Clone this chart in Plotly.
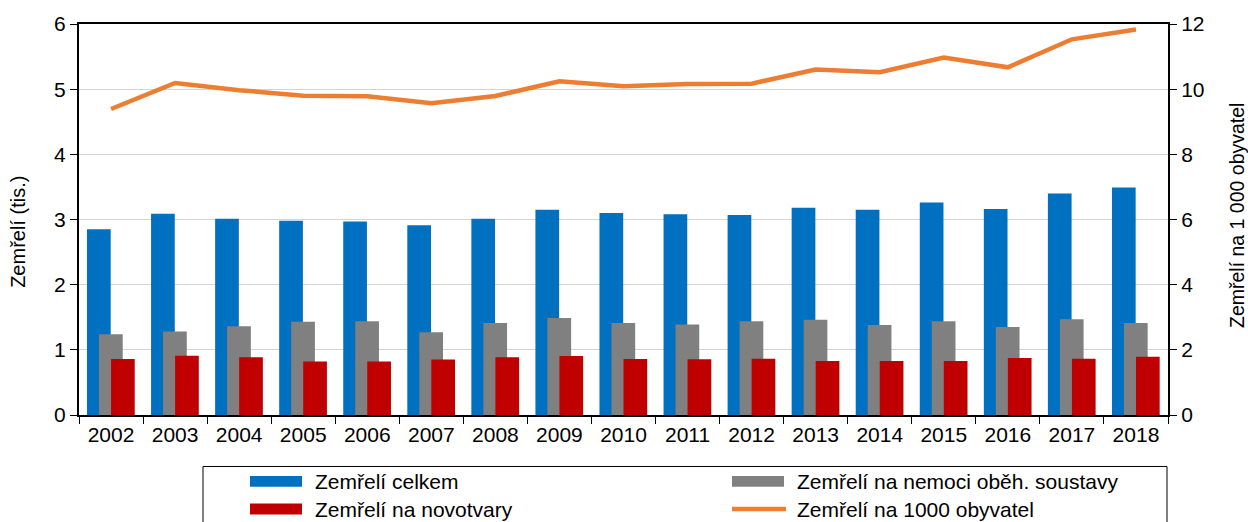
import plotly.graph_objects as go

years = [str(y) for y in range(2002, 2019)]

# thousands of deaths
zemreli_celkem = [2.85, 3.09, 3.01, 2.98, 2.97, 2.91, 3.01, 3.15, 3.10,
                  3.08, 3.07, 3.18, 3.15, 3.26, 3.16, 3.40, 3.49]
zemreli_obeh = [1.24, 1.28, 1.36, 1.43, 1.44, 1.27, 1.41, 1.49, 1.41,
                1.39, 1.44, 1.46, 1.38, 1.44, 1.35, 1.47, 1.41]
zemreli_novotvary = [0.86, 0.91, 0.885, 0.82, 0.82, 0.85, 0.885, 0.905, 0.86,
                     0.855, 0.865, 0.83, 0.83, 0.83, 0.875, 0.865, 0.895]
# per 1000 inhabitants (right axis)
zemreli_na_1000 = [9.39, 10.19, 9.97, 9.80, 9.78, 9.57, 9.79, 10.24, 10.09,
                   10.16, 10.17, 10.60, 10.52, 10.97, 10.67, 11.53, 11.83]

BLUE = "#0070C0"
GRAY = "#808080"
RED = "#C00000"
ORANGE = "#ED7D31"
FONT = "Liberation Sans, Arial, sans-serif"

W, H = 1248, 522
PLOT_L, PLOT_R, PLOT_T, PLOT_B = 79, 1168, 20, 415
PW, PH = PLOT_R - PLOT_L, PLOT_B - PLOT_T


def px(x):
    # pixel -> paper x
    return (x - PLOT_L) / PW


def py(y):
    # pixel -> paper y
    return (PLOT_B - y) / PH


fig = go.Figure()
fig.add_bar(x=years, y=zemreli_celkem, name="Zemřelí celkem", marker_color=BLUE,
            width=0.37, offset=-0.375, marker_line_width=0)
fig.add_bar(x=years, y=zemreli_obeh, name="Zemřelí na nemoci oběh. soustavy",
            marker_color=GRAY, width=0.37, offset=-0.1875, marker_line_width=0)
fig.add_bar(x=years, y=zemreli_novotvary, name="Zemřelí na novotvary",
            marker_color=RED, width=0.37, offset=0, marker_line_width=0)
fig.add_scatter(x=years, y=zemreli_na_1000, name="Zemřelí na 1000 obyvatel",
                mode="lines", line=dict(color=ORANGE, width=4.5), yaxis="y2")

# legend drawn by hand to get Excel-like wide swatches
shapes = [dict(type="rect", xref="paper", yref="paper",
               x0=px(203), x1=px(1167), y0=py(467), y1=py(535),
               line=dict(color="black", width=1), fillcolor="rgba(0,0,0,0)")]
annotations = []
items = [("Zemřelí celkem", BLUE, "bar", 250, 482),
         ("Zemřelí na nemoci oběh. soustavy", GRAY, "bar", 732, 482),
         ("Zemřelí na novotvary", RED, "bar", 250, 510),
         ("Zemřelí na 1000 obyvatel", ORANGE, "line", 732, 510)]
for label, color, kind, x, y in items:
    if kind == "bar":
        shapes.append(dict(type="rect", xref="paper", yref="paper",
                           x0=px(x), x1=px(x + 52), y0=py(y + 5.5), y1=py(y - 5.5),
                           fillcolor=color, line=dict(width=0)))
    else:
        shapes.append(dict(type="line", xref="paper", yref="paper",
                           x0=px(x), x1=px(x + 54), y0=py(y), y1=py(y),
                           line=dict(color=color, width=4.5)))
    annotations.append(dict(text=label, xref="paper", yref="paper",
                            x=px(x + 63), y=py(y), xanchor="left", yanchor="middle",
                            showarrow=False, font=dict(size=21, color="black")))

# axis titles as annotations so they sit where the reference has them
annotations.append(dict(text="Zemřelí (tis.)", xref="paper", yref="paper",
                        x=px(18), y=py(230), textangle=-90, showarrow=False,
                        xanchor="center", yanchor="middle", font=dict(size=20)))
annotations.append(dict(text="Zemřelí na 1 000 obyvatel", xref="paper", yref="paper",
                        x=px(1237), y=py(214), textangle=-90, showarrow=False,
                        xanchor="center", yanchor="middle", font=dict(size=19.5)))

fig.update_layout(
    width=W, height=H,
    margin=dict(l=PLOT_L, r=W - PLOT_R, t=PLOT_T, b=H - PLOT_B),
    barmode="overlay",
    showlegend=False,
    plot_bgcolor="white", paper_bgcolor="white",
    font=dict(family=FONT, size=21, color="black"),
    shapes=shapes, annotations=annotations,
    xaxis=dict(type="category", showline=True, linecolor="black", linewidth=2,
               mirror=True, ticks="outside", tickson="boundaries", ticklen=7,
               tickcolor="black", showgrid=False, range=[-0.5, 16.5]),
    yaxis=dict(range=[0, 6], dtick=1, showline=True, linecolor="black", linewidth=2,
               ticks="outside", ticklen=7, tickcolor="black",
               showgrid=True, gridcolor="#d4d4d4", gridwidth=1, zeroline=False),
    yaxis2=dict(range=[0, 12], dtick=2, overlaying="y", side="right",
                showline=True, linecolor="black", linewidth=2,
                ticks="outside", ticklen=7, tickcolor="black",
                showgrid=False, zeroline=False),
)

# drop the default page margin so the figure fills the window exactly
fig.write_html("out.html", config={"displayModeBar": False},
               post_script="document.body.style.margin='0';"
                           "document.body.style.overflow='hidden';")
